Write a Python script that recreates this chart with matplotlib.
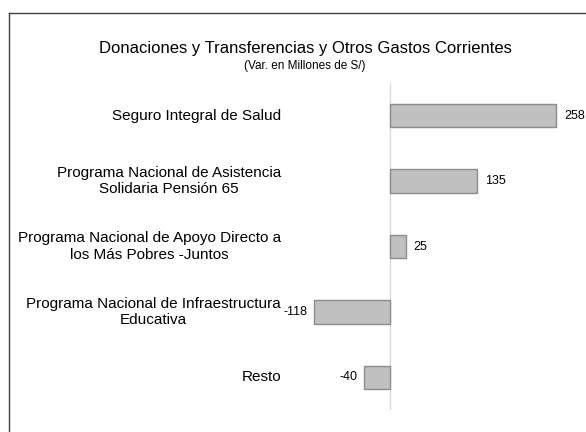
import matplotlib
matplotlib.use('Agg')
import matplotlib.pyplot as plt
from matplotlib.lines import Line2D
import matplotlib.transforms as mtransforms

plt.rcParams['font.family'] = ['Liberation Sans', 'DejaVu Sans']

# datos
categorias = [
    'Seguro Integral de Salud',
    'Programa Nacional de Asistencia\nSolidaria Pensión 65',
    'Programa Nacional de Apoyo Directo a\nlos Más Pobres -Juntos',
    'Programa Nacional de Infraestructura\nEducativa',
    'Resto',
]
variacion = [258, 135, 25, -118, -40]

titulo = 'Donaciones y Transferencias y Otros Gastos Corrientes'
subtitulo = '(Var. en Millones de S/)'

W, H = 586, 432
fig = plt.figure(figsize=(W / 100, H / 100), dpi=100)
ax = fig.add_axes([300 / W, 22 / H, 280 / W, 327 / H])

pos = list(range(len(categorias)))
ax.barh(pos, variacion, height=0.36, color='#c0c0c0', edgecolor='#8c8c8c', linewidth=1, zorder=2)
ax.axvline(0, color='#d9d9d9', lw=1, zorder=1)

# escala: cero en x=390 px, ~0.645 px por millon
ax.set_xlim(-90 / 0.645, 190 / 0.645)
ax.set_ylim(4.5, -0.5)
ax.axis('off')

for p, v in zip(pos, variacion):
    if v >= 0:
        ax.annotate(str(v), (v, p), xytext=(5.5, 0), textcoords='offset points',
                    ha='left', va='center', fontsize=9)
    else:
        ax.annotate(str(v), (v, p), xytext=(-4.5, 0), textcoords='offset points',
                    ha='right', va='center', fontsize=9)

# nombres de categorias a la izquierda
trans = mtransforms.blended_transform_factory(fig.transFigure, ax.transData)
for p, c in zip(pos, categorias):
    ax.text(281 / W, p, c, transform=trans, ha='right', va='center',
            multialignment='center', fontsize=11, linespacing=1.2)

fig.text(305 / W, 1 - 53 / H, titulo, ha='center', va='baseline', fontsize=12)
fig.text(305 / W, 1 - 69 / H, subtitulo, ha='center', va='baseline', fontsize=8.5)

# marco
fig.add_artist(Line2D([8.5 / W, 8.5 / W], [1 - 13 / H, 0], transform=fig.transFigure,
                      color='#404040', lw=1))
fig.add_artist(Line2D([8.5 / W, 1], [1 - 13 / H, 1 - 13 / H], transform=fig.transFigure,
                      color='#404040', lw=1))

fig.savefig('out.png', dpi=100)
